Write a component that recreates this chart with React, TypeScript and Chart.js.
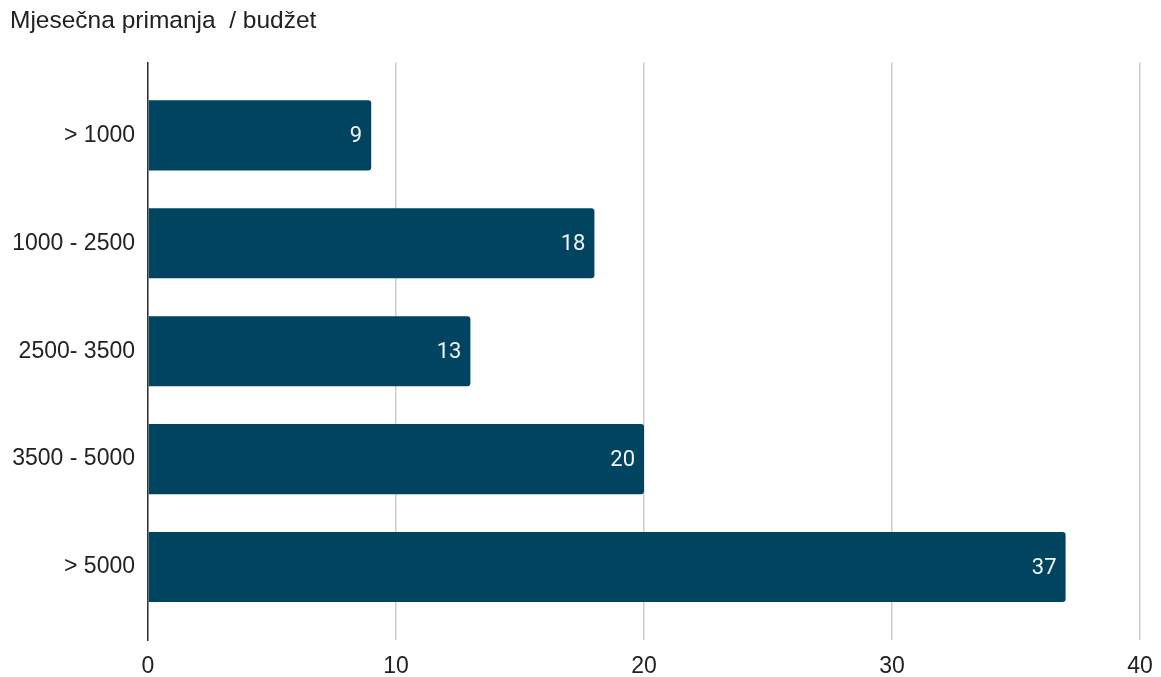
import React, { useEffect, useRef } from "react";
import { Chart, registerables } from "chart.js";

Chart.register(...registerables);

const TITLE = "Mjesečna primanja  / budžet";
const CATEGORIES = ["> 1000", "1000 - 2500", "2500- 3500", "3500 - 5000", "> 5000"];
const VALUES = [9, 18, 13, 20, 37];
const X_TICKS = [0, 10, 20, 30, 40];

const BAR_COLOR = "#00445F";
const FONT = "'Liberation Sans', Arial, sans-serif";

const valueLabels = {
  id: "valueLabels",
  afterDatasetsDraw(chart: any) {
    const ctx = chart.ctx;
    const meta = chart.getDatasetMeta(0);
    ctx.save();
    ctx.fillStyle = "#f2f5f7";
    ctx.font = "22px Roboto, 'Liberation Sans', sans-serif";
    ctx.textAlign = "right";
    ctx.textBaseline = "middle";
    meta.data.forEach((el: any, i: number) => {
      ctx.fillText(String(VALUES[i]), el.x - 9, el.y + 1);
    });
    ctx.restore();
  },
};

export default function App() {
  const ref = useRef<HTMLCanvasElement>(null);
  useEffect(() => {
    if (!ref.current) return;
    const chart = new Chart(ref.current, {
      type: "bar",
      data: {
        datasets: [
          {
            data: VALUES.map((v, i) => ({ x: v, y: i })),
            backgroundColor: BAR_COLOR,
            borderRadius: 3,
            borderSkipped: "start",
            barPercentage: 0.65,
            categoryPercentage: 1,
          },
        ],
      },
      options: {
        indexAxis: "y",
        animation: false,
        responsive: false,
        layout: { padding: { left: 10, right: 21, top: 0, bottom: 0 } },
        plugins: {
          legend: { display: false },
          tooltip: { enabled: false },
          title: {
            display: true,
            text: TITLE,
            align: "start",
            color: "#222222",
            font: { family: FONT, size: 24.5, weight: "normal" },
            padding: { top: 7, bottom: 26 },
          },
        },
        scales: {
          x: {
            type: "linear",
            min: 0,
            max: 40,
            afterBuildTicks: (scale: any) => {
              scale.ticks = X_TICKS.map((v) => ({ value: v }));
            },
            afterFit: (scale: any) => {
              scale.paddingLeft = 0;
              scale.paddingRight = 0;
              scale.height = 37;
            },
            grid: { color: "#cccccc", lineWidth: 1.5, drawTicks: false },
            border: { display: false },
            ticks: {
              color: "#222222",
              font: { family: FONT, size: 23 },
              padding: 13,
            },
          },
          y: {
            type: "linear",
            reverse: true,
            offset: false,
            min: -0.676,
            max: 4.676,
            afterBuildTicks: (scale: any) => {
              scale.ticks = CATEGORIES.map((_, i) => ({ value: i }));
            },
            afterFit: (scale: any) => {
              scale.width = 138;
              scale.paddingTop = 0;
              scale.paddingBottom = 0;
            },
            grid: { display: false, drawTicks: false },
            border: { display: true, color: "#333333", width: 1.5 },
            ticks: {
              color: "#222222",
              font: { family: FONT, size: 23 },
              padding: 13,
              autoSkip: false,
              callback: (v: any) => CATEGORIES[Math.round(Number(v))] ?? "",
            },
          },
        },
      },
      plugins: [valueLabels],
    } as any);
    return () => chart.destroy();
  }, []);
  return (
    <div style={{ position: "absolute", left: 0, top: 0, width: 1161, height: 677, background: "#fff" }}>
      <canvas ref={ref} width={1161} height={677} style={{ display: "block", width: 1161, height: 677 }} />
    </div>
  );
}
